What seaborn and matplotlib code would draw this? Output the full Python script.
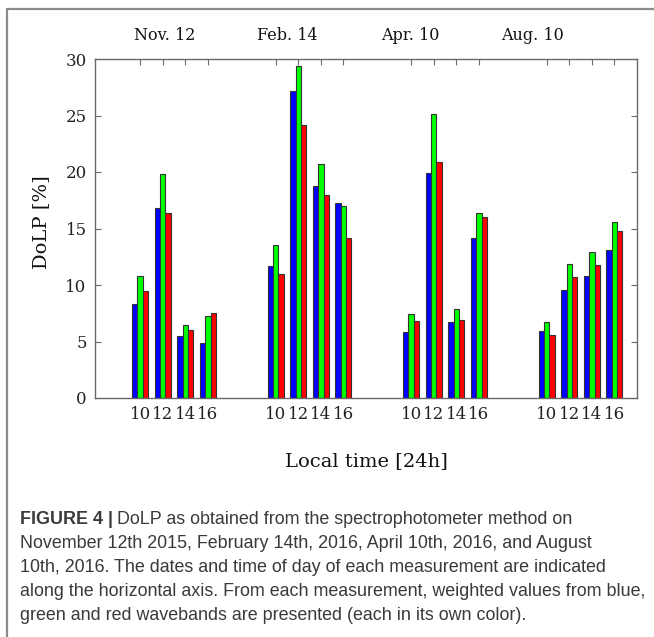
import numpy as np
import pandas as pd
import seaborn as sns
import matplotlib.pyplot as plt
from matplotlib.lines import Line2D
from matplotlib.transforms import blended_transform_factory

# Measurement days and local hours of each measurement
dates = ["Nov. 12", "Feb. 14", "Apr. 10", "Aug. 10"]
hours = [10, 12, 14, 16]
bands = ["blue", "green", "red"]

# Weighted DoLP [%] per waveband, ordered by day then hour
dolp_blue = [8.3, 16.8, 5.5, 4.9,
             11.7, 27.2, 18.8, 17.3,
             5.8, 19.9, 6.7, 14.2,
             5.9, 9.6, 10.8, 13.1]
dolp_green = [10.8, 19.8, 6.5, 7.3,
              13.5, 29.4, 20.7, 17.0,
              7.4, 25.1, 7.9, 16.4,
              6.7, 11.9, 12.9, 15.6]
dolp_red = [9.5, 16.4, 6.0, 7.5,
            11.0, 24.2, 18.0, 14.2,
            6.8, 20.9, 6.9, 16.0,
            5.6, 10.7, 11.8, 14.8]

band_colors = {"blue": "#0000ff", "green": "#00ff00", "red": "#ff0000"}

# Slot layout: four hourly slots per day, two empty slots between days
slots_per_day = 6
first_slot = 2
slot = [first_slot + slots_per_day * d + h
        for d in range(len(dates)) for h in range(len(hours))]

rows = []
for band, vals in zip(bands, [dolp_blue, dolp_green, dolp_red]):
    for s, v in zip(slot, vals):
        rows.append({"slot": s, "band": band, "dolp": v})
df = pd.DataFrame(rows)

sns.set_style("ticks")
plt.rcParams["font.family"] = ["DejaVu Serif"]

W, H = 654, 637
fig = plt.figure(figsize=(W / 100, H / 100), dpi=100)
ax = fig.add_axes([95 / W, 1 - 398 / H, 542 / W, 339 / H])

sns.barplot(data=df, x="slot", y="dolp", hue="band", hue_order=bands,
            palette=band_colors, saturation=1, native_scale=True,
            width=0.71, gap=0, errorbar=None, edgecolor="#333333",
            linewidth=0.8, legend=False, ax=ax)

axis_gray = "#6a6a6a"
ax.set_xlim(0, 24)
ax.set_ylim(0, 30)
ax.set_xticks(slot)
ax.set_xticklabels([str(h) for _ in dates for h in hours])
ax.set_yticks(np.arange(0, 31, 5))
ax.tick_params(direction="in", top=True, right=True, length=4, width=0.8,
               color=axis_gray, labelsize=12, labelcolor="#222222", pad=6)
for sp in ax.spines.values():
    sp.set_visible(True)
    sp.set_color(axis_gray)
    sp.set_linewidth(1.0)

ax.set_xlabel("Local time [24h]", fontsize=14, color="#111111")
ax.xaxis.set_label_coords(0.5, -0.159)
ax.set_ylabel("DoLP [%]", fontsize=14, color="#111111")
ax.yaxis.set_label_coords(-0.083, 0.52)

# Day labels above the plot
date_label_x = [3.1, 8.5, 13.95, 19.35]
trans = blended_transform_factory(ax.transData, ax.transAxes)
for x, d in zip(date_label_x, dates):
    ax.text(x, 1 + 24 / 339, d, transform=trans, ha="center", va="center",
            fontsize=11.5, color="#111111")

# Figure frame (top and left rules)
frame_color = "#8c8c8c"
fig.add_artist(Line2D([7 / W, 1], [1 - 9 / H, 1 - 9 / H],
                      transform=fig.transFigure, color=frame_color, lw=1.6))
fig.add_artist(Line2D([7 / W, 7 / W], [0, 1 - 9 / H],
                      transform=fig.transFigure, color=frame_color, lw=1.6))

# Caption
cap_family = ["Liberation Sans"]
cap_color = "#3a3a3a"
cap_size = 12.85
cap_x = 20 / W
cap_lines = [
    "DoLP as obtained from the spectrophotometer method on",
    "November 12th 2015, February 14th, 2016, April 10th, 2016, and August",
    "10th, 2016. The dates and time of day of each measurement are indicated",
    "along the horizontal axis. From each measurement, weighted values from blue,",
    "green and red wavebands are presented (each in its own color).",
]
cap_y = [520, 544, 568, 592, 616]

head = fig.text(cap_x, 1 - cap_y[0] / H, "FIGURE 4 |", fontsize=cap_size,
                fontweight="bold", family=cap_family, color=cap_color,
                va="center", ha="left")
renderer = fig.canvas.get_renderer()
head_w = head.get_window_extent(renderer).width / W
fig.text(cap_x + head_w + 4 / W, 1 - cap_y[0] / H, cap_lines[0],
         fontsize=cap_size, family=cap_family, color=cap_color,
         va="center", ha="left")
for line, y in zip(cap_lines[1:], cap_y[1:]):
    fig.text(cap_x, 1 - y / H, line, fontsize=cap_size, family=cap_family,
             color=cap_color, va="center", ha="left")

fig.savefig("out.png", dpi=100, facecolor="white")
